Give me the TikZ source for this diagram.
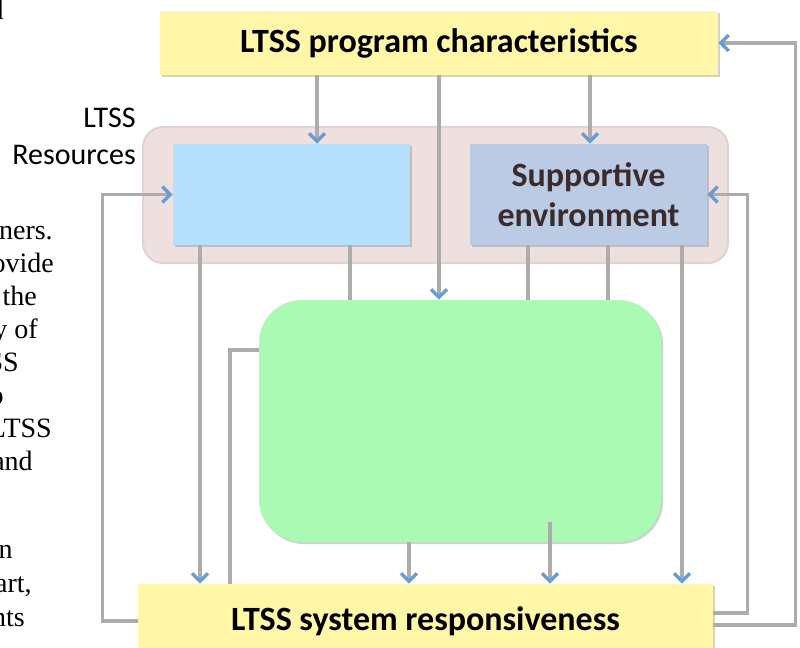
\documentclass[tikz,border=0pt]{standalone}
\usepackage{fontspec}
\setmainfont{Liberation Serif}
\newfontfamily\calibri{Carlito}
\usetikzlibrary{arrows.meta,shadows}

\definecolor{boxyellow}{RGB}{255,246,168}
\definecolor{boxblue}{RGB}{181,224,252}
\definecolor{boxsteel}{RGB}{186,203,227}
\definecolor{boxgreen}{RGB}{170,250,180}
\definecolor{grouppink}{RGB}{239,224,224}
\definecolor{groupedge}{RGB}{226,210,210}
\definecolor{envtext}{RGB}{58,44,44}
\definecolor{linkgray}{RGB}{172,172,172}
\definecolor{tipblue}{RGB}{104,156,216}

\begin{document}
\begin{tikzpicture}[x=0.75pt,y=-0.75pt,
    box/.style={inner sep=0pt, font=\calibri\bfseries\fontsize{25.5}{30}\selectfont,
      drop shadow={shadow xshift=1.5pt, shadow yshift=-1.5pt, opacity=0.3, fill=black!60}},
    group/.style={fill=grouppink, draw=groupedge, line width=1.5pt, rounded corners=15pt},
    link/.style={draw=linkgray, line width=2.4pt},
    flow/.style={link, -{Straight Barb[length=6pt,width=12pt,line width=2.6pt,color=tipblue]}},
    frag/.style={anchor=base east, inner sep=0pt, font=\fontsize{21}{24}\selectfont},
    side/.style={anchor=base east, inner sep=0pt, font=\calibri\fontsize{22.5}{27}\selectfont}]

        \useasboundingbox (0,0) rectangle (800,648);
        \clip (0,0) rectangle (800,648);

        % text of the page beside the figure
        \node[frag] (f0) at (4,20) {d};
        \node[frag] (f1) at (53,240) {ners.};
        \node[frag] (f2) at (54,273) {ovide};
        \node[frag] (f3) at (37,306) {the};
        \node[frag] (f4) at (38,339) {y of};
        \node[frag] (f5) at (19,372) {SS};
        \node[frag] (f6) at (4,405) {o};
        \node[frag] (f7) at (52,438) {LTSS};
        \node[frag] (f8) at (33,471) {and};
        \node[frag] (f9) at (13,558) {n};
        \node[frag] (f10) at (32,592) {art,};
        \node[frag] (f11) at (25,626) {nts};

        \node[side] (lbl1) at (136,128) {LTSS};
        \node[side] (lbl2) at (136,165) {Resources};

        \node[group, minimum width=438.75pt, minimum height=102pt] (res) at (435.5,195) {};

        \node[box, fill=boxyellow, minimum width=418.5pt, minimum height=48pt] (prog)
        at (439,43) {LTSS program characteristics};
        \node[box, fill=boxblue, minimum width=177.75pt, minimum height=75.75pt] (care)
        at (291.5,194.5) {};
        \node[box, fill=boxsteel, text=envtext, align=center,
        minimum width=177.75pt, minimum height=75.75pt] (env)
        at (588.5,194.5) {Supportive\\environment};
        \node[box, fill=boxgreen, rounded corners=32pt,
        minimum width=301.5pt, minimum height=181.5pt] (core) at (460,421) {};
        \node[box, fill=boxyellow, minimum width=431.25pt, minimum height=55.5pt] (resp)
        at (425.5,621) {LTSS system responsiveness};

        \coordinate (inner) at (550,522);

        \draw[flow] (317,0 |- prog.south) -- (317,0 |- care.north);
        \draw[flow] (439,0 |- prog.south) -- (439,0 |- core.north);
        \draw[flow] (590,0 |- prog.south) -- (590,0 |- env.north);
        \draw[flow] (200,0 |- care.south) -- (200,0 |- resp.north);
        \draw[link] (350,0 |- care.south) -- (350,0 |- core.north);
        \draw[link] (528,0 |- env.south) -- (528,0 |- core.north);
        \draw[link] (608,0 |- env.south) -- (608,0 |- core.north);
        \draw[flow] (682,0 |- env.south) -- (682,0 |- resp.north);
        \draw[flow] (409,0 |- core.south) -- (409,0 |- resp.north);
        \draw[flow] (inner) -- (inner |- resp.north);
        \draw[link] (230,0 |- resp.north) |- (core.west |- 0,350);

        % feedback loops
        \draw[flow] (resp.west |- 0,621) -- ++(-35,0) |- (care.west);
        \draw[flow] (resp.east |- 0,613) -- ++(34,0) |- (env.east);
        \draw[flow] (resp.east |- 0,625) -- ++(82,0) |- (prog.east);

      \end{tikzpicture}
\end{document}
